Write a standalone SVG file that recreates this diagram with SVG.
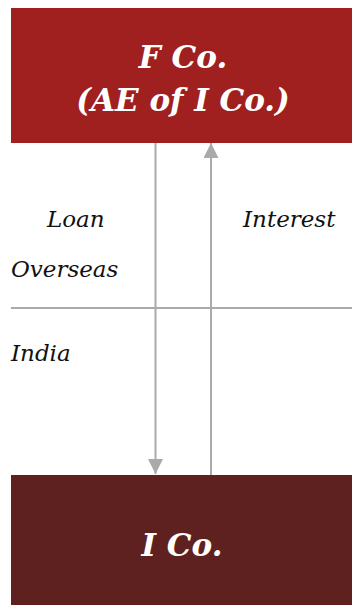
<svg xmlns="http://www.w3.org/2000/svg" width="352" height="605" viewBox="0 0 352 605">
<style>
.box-t{font-family:"DejaVu Serif","Liberation Serif",serif;font-weight:bold;font-style:italic;font-size:31px;fill:#fff;text-anchor:middle}
.lbl{font-family:"DejaVu Serif","Liberation Serif",serif;font-style:italic;font-size:23px;fill:#111}
.ln{stroke:#aaaaaa;stroke-width:2;fill:none}
</style>
<defs>
<marker id="ah2" viewBox="0 0 14 14" refX="14" refY="7" markerWidth="15" markerHeight="15" markerUnits="userSpaceOnUse" orient="auto">
<path d="M0,0 L14,7 L0,14 Z" fill="#aaaaaa"/>
</marker>
</defs>
<g id="connectors">
<line class="ln" x1="11" y1="308" x2="352" y2="308"/>
<line class="ln" x1="155.5" y1="143" x2="155.5" y2="474" marker-end="url(#ah2)"/>
<line class="ln" x1="211" y1="475" x2="211" y2="143" marker-end="url(#ah2)"/>
</g>
<g id="fco">
<rect x="11" y="8" width="341" height="135" fill="#a02020"/>
<text class="box-t" x="183" y="68">F Co.</text>
<text class="box-t" x="183" y="111">(AE of I Co.)</text>
</g>
<g id="ico">
<rect x="11" y="475" width="341" height="130" fill="#5e2120"/>
<text class="box-t" x="182" y="556">I Co.</text>
</g>
<g id="labels">
<text class="lbl" x="47" y="227">Loan</text>
<text class="lbl" x="243" y="227">Interest</text>
<text class="lbl" x="11" y="277">Overseas</text>
<text class="lbl" x="11" y="361">India</text>
</g>
</svg>
